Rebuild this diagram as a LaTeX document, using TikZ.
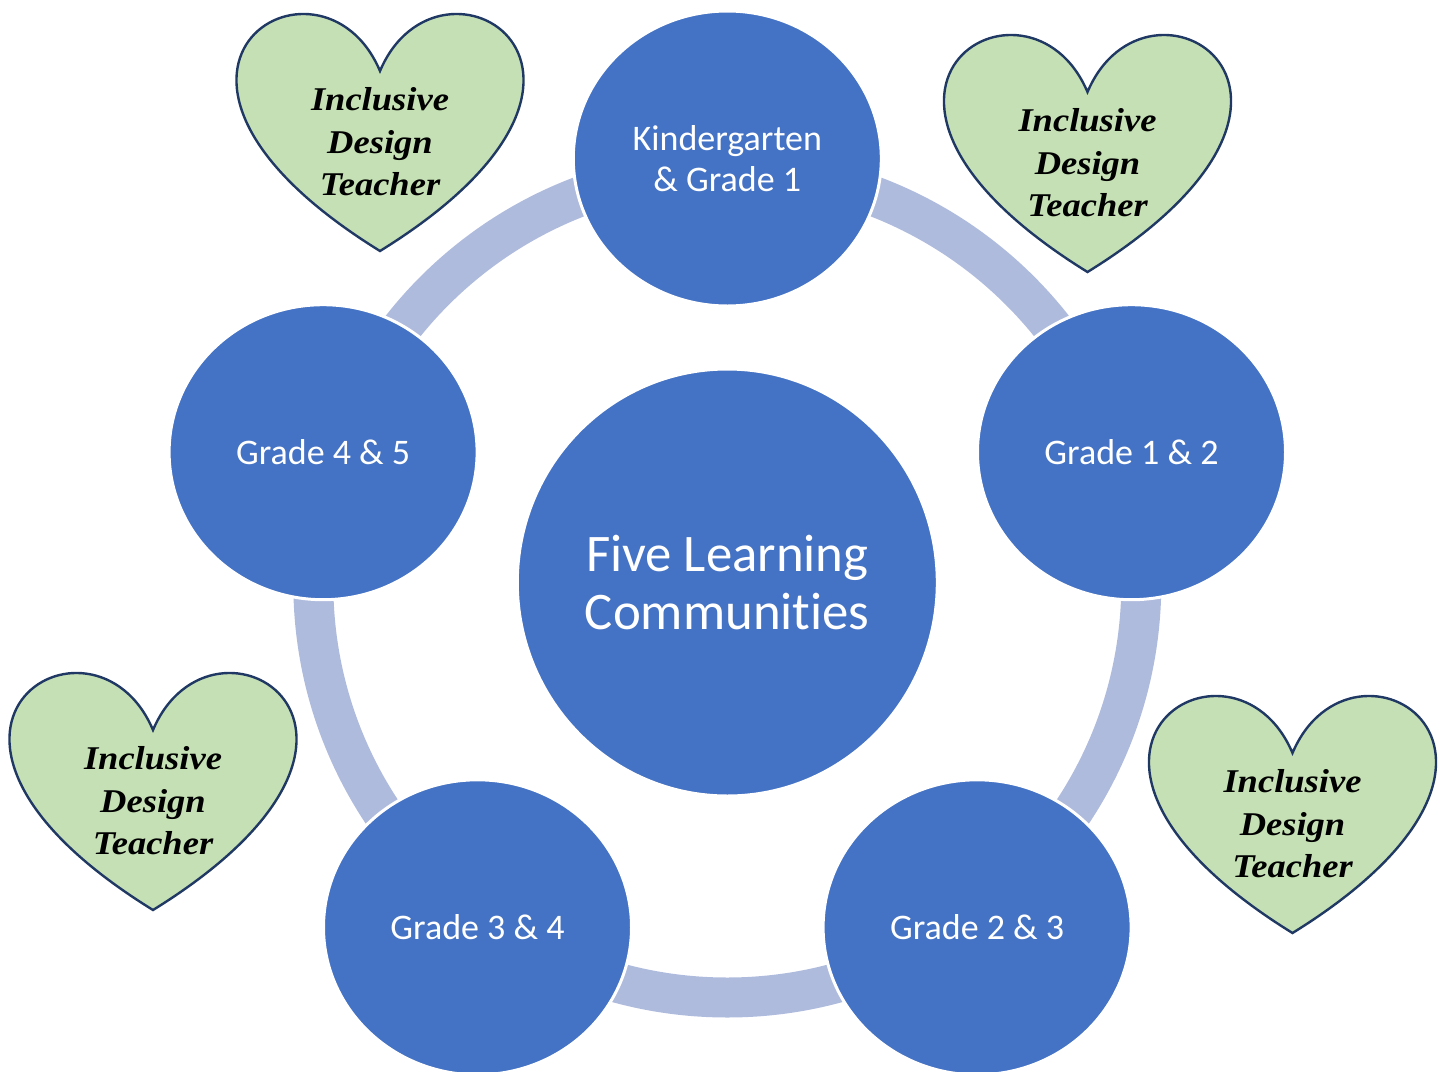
\documentclass[tikz,border=0pt]{standalone}
\usepackage{fontspec}
\newfontfamily\calib[Ligatures=NoCommon]{Carlito}
\newfontfamily\heartfont[FakeStretch=1.1]{Liberation Serif}
\usetikzlibrary{shapes.geometric}
\definecolor{cblue}{RGB}{68,114,196}
\definecolor{ringcol}{RGB}{175,187,221}
\definecolor{hfill}{RGB}{197,224,180}
\definecolor{hline}{RGB}{32,56,100}
\tikzset{
  gradecirc/.style={ellipse, fill=cblue, draw=white, line width=1.5pt, inner sep=0pt,
    minimum width=154pt, minimum height=147.5pt, text=white,
    font=\calib\fontsize{18}{20.6}\selectfont, align=center},
  bigcirc/.style={ellipse, fill=cblue, draw=white, line width=1.5pt, inner sep=0pt,
    minimum width=210pt, minimum height=213.5pt, text=white,
    font=\calib\fontsize{26.4}{28.8}\selectfont, align=center},
  ringsty/.style={draw=ringcol, line width=20pt},
  heartshape/.style={fill=hfill, draw=hline, line width=1.2pt},
  hearttext/.style={font=\heartfont\bfseries\itshape\fontsize{16.6}{21.2}\selectfont,
    align=center, inner sep=0pt, text=black}
}
% #1 centre x, #2 top y, #3 name
\newcommand\myheart[3]{%
  \draw[heartshape] (#1,{#2+60})
    .. controls ({#1+59.375},{#2-80}) and ({#1+290.94},{#2+60}) .. (#1,{#2+240})
    .. controls ({#1-290.94},{#2+60}) and ({#1-59.375},{#2-80}) .. cycle;
  \node[hearttext] (#3) at (#1,{#2+131}) {Inclusive\\Design\\Teacher};
}
\begin{document}
\begin{tikzpicture}[x=0.5pt,y=-0.5pt]
\useasboundingbox (0,0) rectangle (1442,1072);
\coordinate (ringc) at (727.3,583.5);
% ring
\draw[ringsty] (ringc) circle [radius=414];
% circles
\node[bigcirc] (center) at (727.3,582.5) {Five Learning\\Communities};
\node[gradecirc] (k)   at (727.3,158.5) {Kindergarten\\\& Grade 1};
\node[gradecirc] (g12) at (1131.5,452.2) {Grade 1 \& 2};
\node[gradecirc] (g23) at (977.1,927.3) {Grade 2 \& 3};
\node[gradecirc] (g34) at (477.5,927.3) {Grade 3 \& 4};
\node[gradecirc] (g45) at (323.1,452.2) {Grade 4 \& 5};
% hearts
\myheart{380}{11}{h1}
\myheart{1087.5}{32}{h2}
\myheart{153}{670}{h3}
\myheart{1292.5}{693}{h4}
\end{tikzpicture}
\end{document}
